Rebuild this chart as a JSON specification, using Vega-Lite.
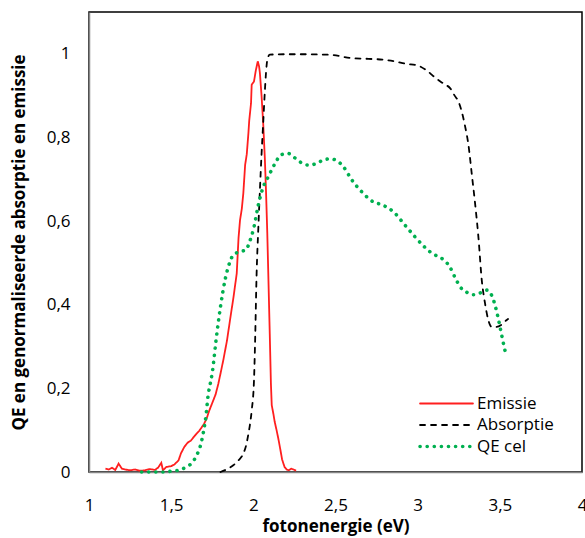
{
  "$schema": "https://vega.github.io/schema/vega-lite/v6.json",
  "autosize": "none",
  "padding": {"left": 89, "top": 12, "right": 3, "bottom": 66},
  "width": 493,
  "height": 460,
  "config": {
    "locale": {"number": {"decimal": ",", "thousands": ".", "grouping": [3], "currency": ["€", ""]}},
    "font": "Open Sans",
    "view": {"stroke": "#000000", "strokeWidth": 1.5},
    "line": {"strokeCap": "round"}
  },
  "datasets": {
    "emissie": [
      {"e": 1.10, "v": 0.008}, {"e": 1.12, "v": 0.006}, {"e": 1.14, "v": 0.010}, {"e": 1.16, "v": 0.005},
      {"e": 1.18, "v": 0.020}, {"e": 1.20, "v": 0.008}, {"e": 1.22, "v": 0.006}, {"e": 1.25, "v": 0.004},
      {"e": 1.28, "v": 0.006}, {"e": 1.31, "v": 0.003}, {"e": 1.34, "v": 0.004}, {"e": 1.37, "v": 0.007},
      {"e": 1.40, "v": 0.005}, {"e": 1.42, "v": 0.010}, {"e": 1.44, "v": 0.022}, {"e": 1.45, "v": 0.004},
      {"e": 1.47, "v": 0.012}, {"e": 1.50, "v": 0.014}, {"e": 1.52, "v": 0.018}, {"e": 1.545, "v": 0.028},
      {"e": 1.56, "v": 0.045}, {"e": 1.58, "v": 0.060}, {"e": 1.60, "v": 0.070}, {"e": 1.62, "v": 0.075},
      {"e": 1.64, "v": 0.085}, {"e": 1.655, "v": 0.092}, {"e": 1.67, "v": 0.098}, {"e": 1.686, "v": 0.107},
      {"e": 1.70, "v": 0.115}, {"e": 1.716, "v": 0.128}, {"e": 1.73, "v": 0.145}, {"e": 1.745, "v": 0.160},
      {"e": 1.757, "v": 0.172}, {"e": 1.77, "v": 0.185}, {"e": 1.787, "v": 0.211}, {"e": 1.80, "v": 0.235},
      {"e": 1.817, "v": 0.267}, {"e": 1.84, "v": 0.315}, {"e": 1.858, "v": 0.363}, {"e": 1.88, "v": 0.420},
      {"e": 1.899, "v": 0.475}, {"e": 1.91, "v": 0.560}, {"e": 1.919, "v": 0.602}, {"e": 1.93, "v": 0.630},
      {"e": 1.939, "v": 0.666}, {"e": 1.95, "v": 0.734}, {"e": 1.96, "v": 0.760}, {"e": 1.97, "v": 0.810},
      {"e": 1.975, "v": 0.840}, {"e": 1.986, "v": 0.882}, {"e": 1.99, "v": 0.926}, {"e": 2.004, "v": 0.934},
      {"e": 2.015, "v": 0.960}, {"e": 2.027, "v": 0.982}, {"e": 2.035, "v": 0.970}, {"e": 2.04, "v": 0.954},
      {"e": 2.05, "v": 0.900}, {"e": 2.06, "v": 0.834}, {"e": 2.07, "v": 0.750}, {"e": 2.077, "v": 0.674},
      {"e": 2.085, "v": 0.570}, {"e": 2.091, "v": 0.475}, {"e": 2.10, "v": 0.330}, {"e": 2.107, "v": 0.211},
      {"e": 2.112, "v": 0.160}, {"e": 2.122, "v": 0.139}, {"e": 2.13, "v": 0.120}, {"e": 2.142, "v": 0.099},
      {"e": 2.152, "v": 0.080}, {"e": 2.162, "v": 0.059}, {"e": 2.175, "v": 0.030}, {"e": 2.19, "v": 0.012},
      {"e": 2.203, "v": 0.006}, {"e": 2.215, "v": 0.004}, {"e": 2.23, "v": 0.008}, {"e": 2.245, "v": 0.006},
      {"e": 2.26, "v": 0.003}
    ],
    "absorptie": [
      {"e": 1.80, "v": 0.000}, {"e": 1.83, "v": 0.005}, {"e": 1.86, "v": 0.011}, {"e": 1.878, "v": 0.016},
      {"e": 1.91, "v": 0.028}, {"e": 1.939, "v": 0.044}, {"e": 1.955, "v": 0.062}, {"e": 1.97, "v": 0.091},
      {"e": 1.98, "v": 0.115}, {"e": 1.99, "v": 0.147}, {"e": 2.004, "v": 0.219}, {"e": 2.01, "v": 0.300},
      {"e": 2.02, "v": 0.475}, {"e": 2.03, "v": 0.580}, {"e": 2.04, "v": 0.674}, {"e": 2.05, "v": 0.760},
      {"e": 2.06, "v": 0.834}, {"e": 2.07, "v": 0.910}, {"e": 2.077, "v": 0.954}, {"e": 2.085, "v": 0.985},
      {"e": 2.10, "v": 0.998}, {"e": 2.2, "v": 0.999}, {"e": 2.3, "v": 0.999}, {"e": 2.447, "v": 0.998},
      {"e": 2.52, "v": 0.995}, {"e": 2.589, "v": 0.990}, {"e": 2.70, "v": 0.988}, {"e": 2.79, "v": 0.986},
      {"e": 2.86, "v": 0.982}, {"e": 2.93, "v": 0.976}, {"e": 3.0, "v": 0.972}, {"e": 3.055, "v": 0.960},
      {"e": 3.116, "v": 0.940}, {"e": 3.16, "v": 0.928}, {"e": 3.197, "v": 0.918}, {"e": 3.225, "v": 0.900},
      {"e": 3.248, "v": 0.886}, {"e": 3.268, "v": 0.862}, {"e": 3.289, "v": 0.826}, {"e": 3.309, "v": 0.782},
      {"e": 3.33, "v": 0.710}, {"e": 3.35, "v": 0.640}, {"e": 3.37, "v": 0.560}, {"e": 3.39, "v": 0.459},
      {"e": 3.41, "v": 0.403}, {"e": 3.43, "v": 0.363}, {"e": 3.45, "v": 0.347}, {"e": 3.48, "v": 0.347},
      {"e": 3.51, "v": 0.352}, {"e": 3.54, "v": 0.363}, {"e": 3.55, "v": 0.366}
    ],
    "qe": [
      {"e": 1.32, "v": 0.0}, {"e": 1.46, "v": 0.0}, {"e": 1.50, "v": 0.002}, {"e": 1.554, "v": 0.005},
      {"e": 1.595, "v": 0.013}, {"e": 1.63, "v": 0.023}, {"e": 1.655, "v": 0.040}, {"e": 1.676, "v": 0.060},
      {"e": 1.696, "v": 0.095}, {"e": 1.712, "v": 0.135}, {"e": 1.726, "v": 0.187}, {"e": 1.736, "v": 0.207},
      {"e": 1.752, "v": 0.243}, {"e": 1.773, "v": 0.315}, {"e": 1.80, "v": 0.395}, {"e": 1.83, "v": 0.463},
      {"e": 1.858, "v": 0.503}, {"e": 1.878, "v": 0.519}, {"e": 1.919, "v": 0.527}, {"e": 1.955, "v": 0.531},
      {"e": 1.975, "v": 0.548}, {"e": 2.004, "v": 0.586}, {"e": 2.03, "v": 0.638}, {"e": 2.057, "v": 0.678},
      {"e": 2.091, "v": 0.706}, {"e": 2.138, "v": 0.742}, {"e": 2.166, "v": 0.758}, {"e": 2.209, "v": 0.762},
      {"e": 2.25, "v": 0.752}, {"e": 2.29, "v": 0.740}, {"e": 2.335, "v": 0.734}, {"e": 2.38, "v": 0.737},
      {"e": 2.42, "v": 0.745}, {"e": 2.467, "v": 0.749}, {"e": 2.51, "v": 0.744}, {"e": 2.548, "v": 0.730},
      {"e": 2.60, "v": 0.698}, {"e": 2.66, "v": 0.670}, {"e": 2.73, "v": 0.646}, {"e": 2.775, "v": 0.640},
      {"e": 2.818, "v": 0.632}, {"e": 2.856, "v": 0.621}, {"e": 2.917, "v": 0.593}, {"e": 2.98, "v": 0.564},
      {"e": 3.045, "v": 0.537}, {"e": 3.08, "v": 0.525}, {"e": 3.12, "v": 0.516}, {"e": 3.16, "v": 0.507},
      {"e": 3.193, "v": 0.492}, {"e": 3.234, "v": 0.460}, {"e": 3.258, "v": 0.443}, {"e": 3.294, "v": 0.431},
      {"e": 3.34, "v": 0.424}, {"e": 3.38, "v": 0.428}, {"e": 3.42, "v": 0.435}, {"e": 3.453, "v": 0.420},
      {"e": 3.48, "v": 0.385}, {"e": 3.50, "v": 0.349}, {"e": 3.52, "v": 0.311}, {"e": 3.54, "v": 0.275}
    ]
  },
  "encoding": {
    "x": {
      "field": "e", "type": "quantitative",
      "scale": {"domain": [1, 4], "nice": false, "zero": false},
      "axis": {
        "title": "fotonenergie (eV)", "values": [1, 1.5, 2, 2.5, 3, 3.5, 4], "format": ".1~f",
        "grid": false, "ticks": false, "domainColor": "#868686", "domainWidth": 1.5,
        "labelFontSize": 17, "labelColor": "#000000", "labelPadding": 25, "labelFlush": false,
        "titleFontSize": 17, "titleFontWeight": "bold", "titleColor": "#000000", "titlePadding": 5
      }
    },
    "y": {
      "field": "v", "type": "quantitative",
      "scale": {"domain": [0, 1.1], "nice": false},
      "axis": {
        "title": "QE en genormaliseerde absorptie en emissie", "values": [0, 0.2, 0.4, 0.6, 0.8, 1], "format": ".1~f",
        "grid": false, "ticks": false, "domainColor": "#868686", "domainWidth": 1.5,
        "labelFontSize": 17, "labelColor": "#000000", "labelPadding": 19,
        "titleFontSize": 17, "titleFontWeight": "bold", "titleColor": "#000000", "titlePadding": 18
      }
    },
    "color": {
      "field": "serie", "type": "nominal",
      "scale": {"domain": ["Emissie", "Absorptie", "QE cel"], "range": ["#ff1f1f", "#000000", "#00b050"]},
      "legend": {
        "title": null, "orient": "none", "legendX": 349, "legendY": 383,
        "symbolType": "M-5,0H5", "symbolSize": 112, "symbolStrokeWidth": 2,
        "labelFontSize": 17, "labelColor": "#000000", "labelOffset": 22, "rowPadding": 3.5,
        "encode": {"symbols": {"update": {
          "strokeCap": {"value": "round"},
          "strokeWidth": {"signal": "datum.value === 'QE cel' ? 3.6 : 1.8"}
        }}}
      }
    },
    "strokeDash": {
      "field": "serie", "type": "nominal",
      "scale": {"domain": ["Emissie", "Absorptie", "QE cel"], "range": [[1, 0], [5, 6], [0.1, 7]]}
    }
  },
  "layer": [
    {
      "data": {"name": "emissie"},
      "transform": [{"calculate": "'Emissie'", "as": "serie"}],
      "mark": {"type": "line", "interpolate": "linear", "strokeCap": "butt", "strokeWidth": 1.8}
    },
    {
      "data": {"name": "absorptie"},
      "transform": [{"calculate": "'Absorptie'", "as": "serie"}],
      "mark": {"type": "line", "interpolate": "monotone", "strokeWidth": 1.8}
    },
    {
      "data": {"name": "qe"},
      "transform": [{"calculate": "'QE cel'", "as": "serie"}],
      "mark": {"type": "line", "interpolate": "monotone", "strokeWidth": 3.6}
    }
  ]
}
